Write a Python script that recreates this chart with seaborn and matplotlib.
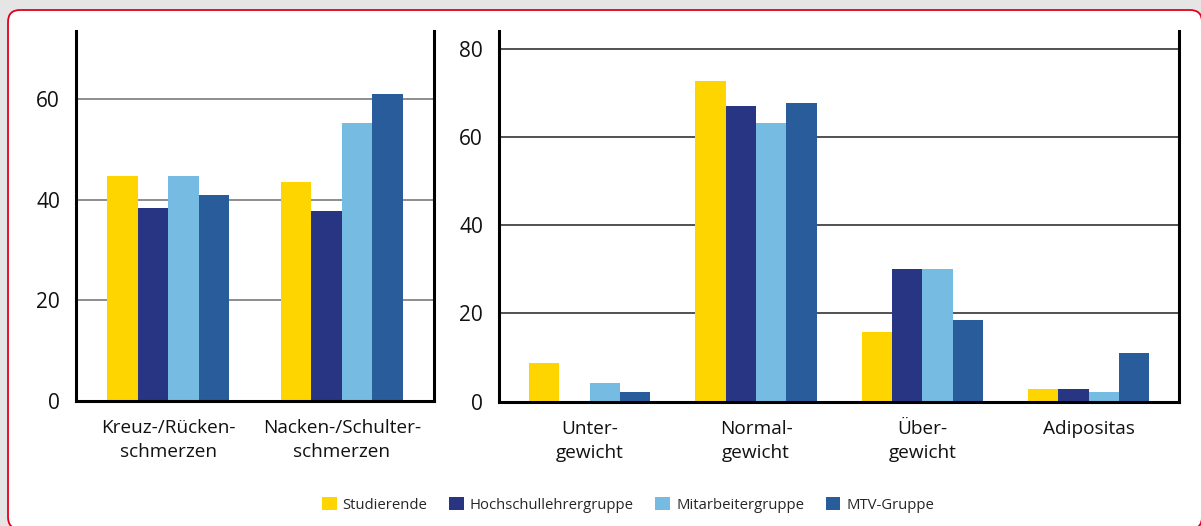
import pandas as pd
import seaborn as sns
import matplotlib.pyplot as plt
from matplotlib.patches import FancyBboxPatch

groups = ["Studierende", "Hochschullehrergruppe", "Mitarbeitergruppe", "MTV-Gruppe"]
colors = ["#ffd500", "#283583", "#75bbe2", "#285c9b"]

pain_cats = ["Kreuz-/Rücken-\nschmerzen", "Nacken-/Schulter-\nschmerzen"]
studierende_pain = [44.7, 43.5]
hochschul_pain = [38.4, 37.8]
mitarbeiter_pain = [44.7, 55.2]
mtv_pain = [41.0, 60.9]

bmi_cats = ["Unter-\ngewicht", "Normal-\ngewicht", "Über-\ngewicht", "Adipositas"]
studierende_bmi = [8.8, 72.8, 15.8, 2.9]
hochschul_bmi = [0.0, 67.1, 30.1, 2.9]
mitarbeiter_bmi = [4.25, 63.3, 30.1, 2.2]
mtv_bmi = [2.2, 67.8, 18.5, 11.0]


def long_df(cats, series):
    rows = []
    for g, vals in zip(groups, series):
        for c, v in zip(cats, vals):
            rows.append({"cat": c, "group": g, "value": v})
    return pd.DataFrame(rows)


pain = long_df(pain_cats, [studierende_pain, hochschul_pain, mitarbeiter_pain, mtv_pain])
bmi = long_df(bmi_cats, [studierende_bmi, hochschul_bmi, mitarbeiter_bmi, mtv_bmi])

sns.set_style("white")
plt.rcParams["font.family"] = ["Open Sans", "DejaVu Sans"]

W, H = 1201, 526
fig = plt.figure(figsize=(W / 100, H / 100), dpi=100, facecolor="#e5e5e5")

# white panel with red rounded border, on a background axes
bg = fig.add_axes([0, 0, 1, 1], zorder=-1)
bg.set_xlim(0, W)
bg.set_ylim(H, 0)
bg.axis("off")
bg.add_patch(FancyBboxPatch((8, 10), 1194, 519, boxstyle="round,pad=0,rounding_size=12",
                            facecolor="white", edgecolor="#e2001a", linewidth=1.3))

ax1 = fig.add_axes([76 / W, 1 - 401 / H, 358 / W, 370 / H])
ax2 = fig.add_axes([499 / W, 1 - 401.5 / H, 680 / W, 370.5 / H])

sns.barplot(data=pain, x="cat", y="value", hue="group", palette=colors, hue_order=groups,
            width=0.70, gap=0, linewidth=0, saturation=1, ax=ax1, legend=True)
sns.barplot(data=bmi, x="cat", y="value", hue="group", palette=colors, hue_order=groups,
            width=0.73, gap=0, linewidth=0, saturation=1, ax=ax2, legend=False)

ax1.set_ylim(0, 73.5)
ax1.set_xlim(-0.53, 1.53)
ax1.set_yticks([0, 20, 40, 60])
ax2.set_ylim(0, 84.2)
ax2.set_xlim(-0.546, 3.544)
ax2.set_yticks([0, 20, 40, 60, 80])

for ax, gcol, cats in [(ax1, "#7a7a7a", pain_cats), (ax2, "#333333", bmi_cats)]:
    ax.set_facecolor("none")
    ax.set_xlabel("")
    ax.set_ylabel("")
    ax.set_axisbelow(True)
    for y in ax.get_yticks()[1:]:
        ax.axhline(y, color=gcol, linewidth=1.2, zorder=0)
    ax.spines["top"].set_visible(False)
    for s in ["left", "right", "bottom"]:
        ax.spines[s].set_color("black")
        ax.spines[s].set_linewidth(2.2)
    ax.tick_params(axis="both", length=0, colors="#111111")
    ax.tick_params(axis="y", pad=11.5, labelsize=15)
    ax.tick_params(axis="x", pad=13, labelsize=13.7)
    ax.set_xticks(range(len(cats)))
    ax.set_xticklabels(cats, linespacing=1.45)

handles, labels = ax1.get_legend_handles_labels()
ax1.get_legend().remove()
fig.legend(handles, labels, loc="center", bbox_to_anchor=(628 / W, 1 - 505 / H), ncol=4,
           frameon=False, fontsize=10.7, handlelength=1.0, handleheight=1.0,
           handletextpad=0.4, columnspacing=1.45)

fig.savefig("out.png", dpi=100, facecolor=fig.get_facecolor())
